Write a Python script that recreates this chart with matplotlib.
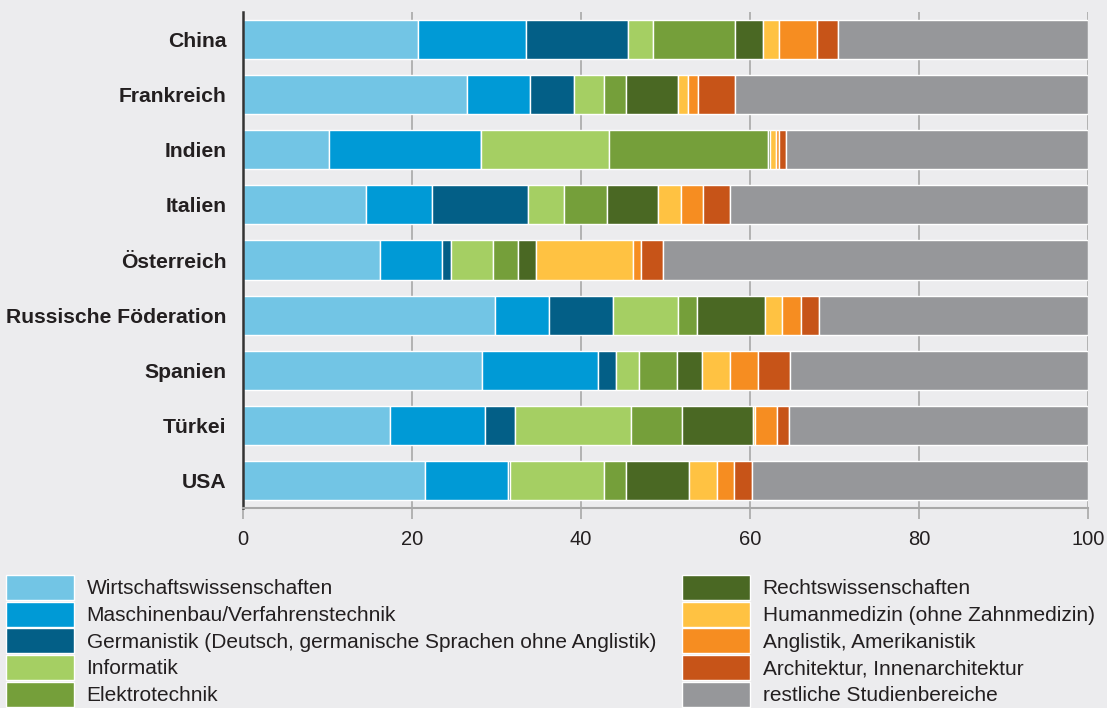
import matplotlib
matplotlib.use("Agg")
import matplotlib.pyplot as plt
from matplotlib.patches import Patch

plt.rcParams['font.family'] = ['Liberation Sans', 'DejaVu Sans']

countries = ['China', 'Frankreich', 'Indien', 'Italien', 'Österreich',
             'Russische Föderation', 'Spanien', 'Türkei', 'USA']

# Anteile in Prozent je Studienbereich
wirtschaft = [20.7, 26.5, 10.2, 14.6, 16.2, 29.9, 28.3, 17.4, 21.6]
maschinenbau = [12.8, 7.5, 18.0, 7.8, 7.4, 6.3, 13.7, 11.3, 9.8]
germanistik = [12.1, 5.2, 0.0, 11.3, 1.1, 7.6, 2.2, 3.5, 0.2]
informatik = [2.9, 3.5, 15.1, 4.3, 4.9, 7.7, 2.7, 13.7, 11.2]
elektrotechnik = [9.7, 2.7, 18.8, 5.1, 3.0, 2.2, 4.5, 6.1, 2.6]
recht = [3.3, 6.1, 0.3, 6.0, 2.1, 8.1, 2.9, 8.4, 7.4]
humanmedizin = [1.9, 1.2, 0.7, 2.8, 11.5, 2.0, 3.4, 0.2, 3.3]
anglistik = [4.5, 1.2, 0.4, 2.5, 0.9, 2.3, 3.3, 2.6, 2.0]
architektur = [2.5, 4.4, 0.8, 3.2, 2.6, 2.1, 3.8, 1.4, 2.1]
restliche = [29.6, 41.7, 35.7, 42.4, 50.3, 31.8, 35.2, 35.4, 39.8]

series = [
    ('Wirtschaftswissenschaften', wirtschaft, '#72c5e5'),
    ('Maschinenbau/Verfahrenstechnik', maschinenbau, '#009ad6'),
    ('Germanistik (Deutsch, germanische Sprachen ohne Anglistik)', germanistik, '#035f87'),
    ('Informatik', informatik, '#a5cf63'),
    ('Elektrotechnik', elektrotechnik, '#759f3a'),
    ('Rechtswissenschaften', recht, '#4a6823'),
    ('Humanmedizin (ohne Zahnmedizin)', humanmedizin, '#ffc242'),
    ('Anglistik, Amerikanistik', anglistik, '#f68d21'),
    ('Architektur, Innenarchitektur', architektur, '#c75418'),
    ('restliche Studienbereiche', restliche, '#96979a'),
]

bg = '#ececee'
txt = '#231f20'

fig = plt.figure(figsize=(11.07, 7.08), dpi=100, facecolor=bg)
ax = fig.add_axes([0.2192, 0.2825, 0.7636, 0.7005])
ax.set_facecolor(bg)

y = list(range(len(countries)))
left = [0.0] * len(countries)
for name, vals, col in series:
    ax.barh(y, vals, left=left, height=0.71, color=col,
            edgecolor='white', linewidth=1.0, zorder=2)
    left = [l + v for l, v in zip(left, vals)]

ax.set_xlim(0, 100)
ax.set_ylim(8.5, -0.5)
ax.set_yticks(y)
ax.set_yticklabels(countries, fontsize=15.2, fontweight='bold', color=txt)
ax.set_xticks([0, 20, 40, 60, 80, 100])
ax.tick_params(axis='x', length=8, width=1.2, color='#a8a8a8',
               labelsize=14.5, labelcolor=txt, pad=8)
ax.tick_params(axis='y', length=0, pad=11.5)

ax.grid(axis='x', color='#a8a8a8', linewidth=1.2, zorder=0)
ax.set_axisbelow(True)
for s in ['top', 'right']:
    ax.spines[s].set_visible(False)
ax.spines['bottom'].set_color('#a8a8a8')
ax.spines['bottom'].set_linewidth(1.5)
ax.spines['left'].set_color('#333333')
ax.spines['left'].set_linewidth(1.8)

handles = [Patch(facecolor=c, edgecolor='white', linewidth=1.0, label=n)
           for n, _, c in series]

leg_kw = dict(frameon=False, fontsize=15.0, handlelength=3.25, handleheight=1.47,
              handletextpad=0.62, labelspacing=0.08, borderpad=0,
              borderaxespad=0, loc='upper left', labelcolor=txt)
fig.legend(handles=handles[:5], bbox_to_anchor=(6 / 1107, 1 - 575 / 708), **leg_kw)
fig.legend(handles=handles[5:], bbox_to_anchor=(682 / 1107, 1 - 575 / 708), **leg_kw)

fig.savefig('out.png', dpi=100, facecolor=bg)
